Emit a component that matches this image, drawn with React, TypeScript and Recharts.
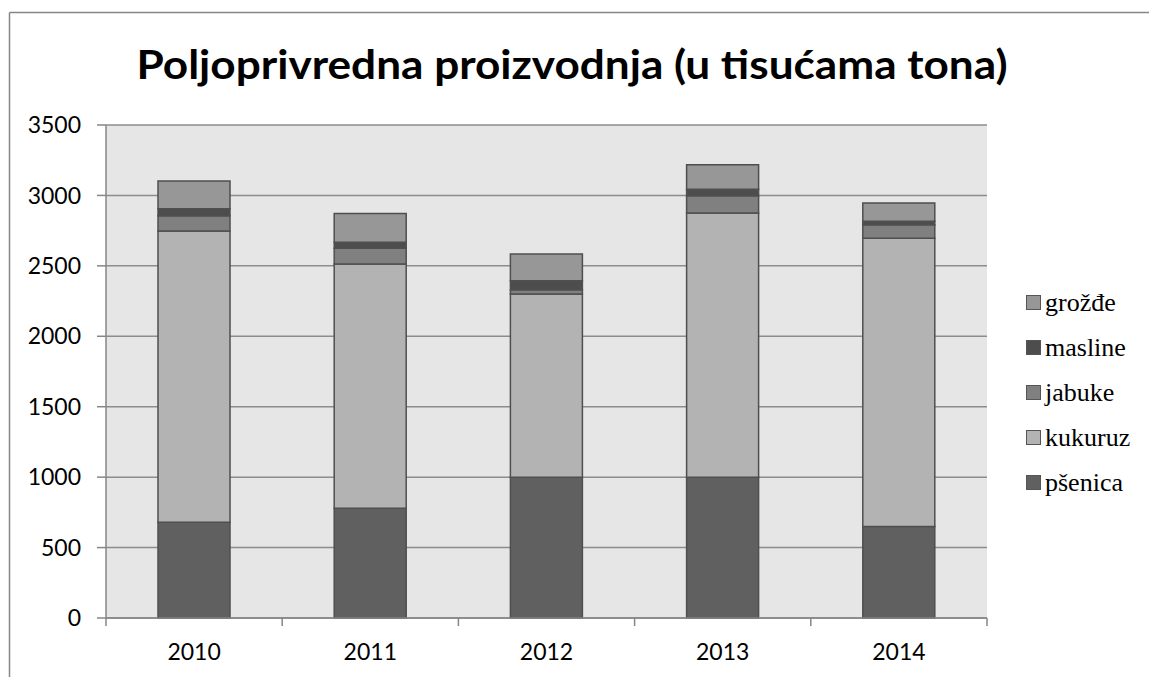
import React from "react";
import { BarChart, Bar, XAxis, YAxis, CartesianGrid, Legend } from "recharts";

const years = ["2010", "2011", "2012", "2013", "2014"];
const psenica = [680, 780, 1000, 1000, 650];
const kukuruz = [2068, 1733, 1300, 1875, 2046];
const jabuke = [107, 112, 30, 123, 96];
const masline = [50, 42, 65, 45, 25];
const grozde = [197, 205, 190, 175, 130];
const yTicks = [0, 500, 1000, 1500, 2000, 2500, 3000, 3500];

const seriesNames = ["pšenica", "kukuruz", "jabuke", "masline", "grožđe"];
const seriesColors = ["#606060", "#b3b3b3", "#808080", "#4d4d4d", "#979797"];
const seriesKeys = ["psenica", "kukuruz", "jabuke", "masline", "grozde"];

const data = years.map((y, i) => ({
  year: y,
  psenica: psenica[i],
  kukuruz: kukuruz[i],
  jabuke: jabuke[i],
  masline: masline[i],
  grozde: grozde[i],
}));

const XTick = (props: any) => {
  const { x, y, payload, index, visibleTicksCount } = props;
  const off = payload && typeof payload.offset === "number" && payload.offset > 0 ? payload.offset : 88.1;
  const last = index === (visibleTicksCount ?? years.length) - 1;
  return (
    <g>
      <line x1={x - off} y1={y} x2={x - off} y2={y + 8} stroke="#868686" strokeWidth={1.5} />
      {last && <line x1={x + off} y1={y} x2={x + off} y2={y + 8} stroke="#868686" strokeWidth={1.5} />}
      <text x={x} y={y + 42} textAnchor="middle" fontFamily="Lato, sans-serif" fontSize={23} fill="#000">
        {payload.value}
      </text>
    </g>
  );
};

const LegendContent = () => {
  const items = seriesNames.map((n, i) => ({ name: n, color: seriesColors[i] })).reverse();
  return (
    <div>
      {items.map((it) => (
        <div key={it.name} style={{ display: "flex", alignItems: "center", height: 45 }}>
          <div
            style={{
              width: 13,
              height: 13,
              background: it.color,
              border: "1.5px solid #555",
              marginRight: 4,
              flex: "none",
            }}
          />
          <span
            style={{
              fontFamily: '"Liberation Serif", "DejaVu Serif", serif',
              fontSize: 26,
              color: "#000",
              lineHeight: "26px",
            }}
          >
            {it.name}
          </span>
        </div>
      ))}
    </div>
  );
};

export default function App() {
  return (
    <div style={{ position: "absolute", left: 0, top: 0, width: 1149, height: 677, background: "#fff" }}>
      <BarChart
        width={1149}
        height={677}
        data={data}
        margin={{ top: 125, right: 162, bottom: 0, left: 46 }}
      >
        <CartesianGrid vertical={false} fill="#e6e6e6" stroke="#8c8c8c" strokeWidth={1.5} />
        <XAxis
          dataKey="year"
          height={59}
          axisLine={{ stroke: "#868686", strokeWidth: 1.5 }}
          tickLine={false}
          tickSize={0}
          tickMargin={0}
          tick={<XTick />}
          interval={0}
        />
        <YAxis
          width={60}
          domain={[0, 3500]}
          ticks={yTicks}
          interval={0}
          axisLine={{ stroke: "#868686", strokeWidth: 1.5 }}
          tickLine={{ stroke: "#868686", strokeWidth: 1.5 }}
          tickSize={9}
          tickMargin={16}
          tick={{ fontFamily: "Lato, sans-serif", fontSize: 23, fill: "#000" }}
        />
        {seriesKeys.map((k, i) => (
          <Bar
            key={k}
            dataKey={k}
            name={seriesNames[i]}
            stackId="a"
            fill={seriesColors[i]}
            stroke="#4f4f4f"
            strokeWidth={1.5}
            barSize={72}
            isAnimationActive={false}
          />
        ))}
        <Legend
          layout="vertical"
          align="center"
          verticalAlign="middle"
          content={<LegendContent />}
          wrapperStyle={{ position: "absolute", left: 1026, top: 280, width: 123 }}
        />
      </BarChart>
      <svg
        width={1149}
        height={677}
        style={{ position: "absolute", left: 0, top: 0, pointerEvents: "none" }}
      >
        <line x1={9.5} y1={12.5} x2={1149} y2={12.5} stroke="#868686" strokeWidth={1.5} />
        <line x1={9.5} y1={12.5} x2={9.5} y2={677} stroke="#868686" strokeWidth={1.5} />
        <text
          x={572}
          y={79}
          textAnchor="middle"
          fontFamily="Lato, sans-serif"
          fontWeight="bold"
          fontSize={40}
          fill="#000"
          textLength={871}
          lengthAdjust="spacingAndGlyphs"
        >
          Poljoprivredna proizvodnja (u tisućama tona)
        </text>
      </svg>
    </div>
  );
}
